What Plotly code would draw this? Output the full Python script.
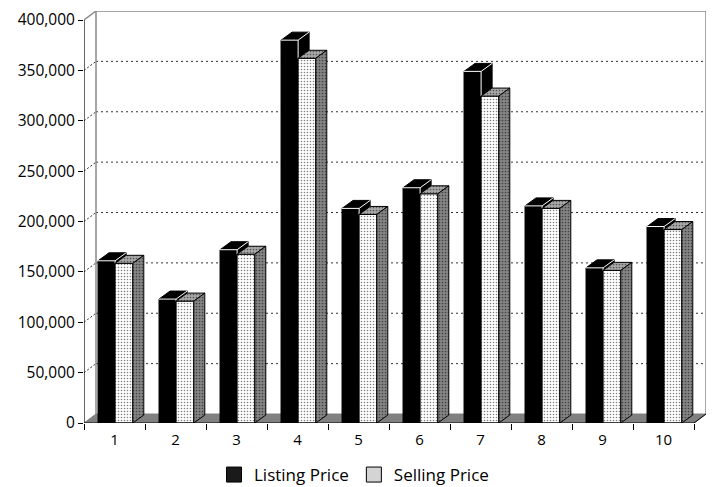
import plotly.graph_objects as go

# ---- data ----
categories = ["1", "2", "3", "4", "5", "6", "7", "8", "9", "10"]
listing_price = [161000, 123000, 172000, 380000, 213000, 233500, 349000, 215500, 154000, 195000]
selling_price = [158500, 121000, 167500, 362000, 207000, 227500, 324500, 213000, 151500, 192000]
y_ticks = [0, 50000, 100000, 150000, 200000, 250000, 300000, 350000, 400000]
series_names = ["Listing Price", "Selling Price"]

# ---- geometry (pixel-derived style constants) ----
W, H = 714, 487
ML, MR, MT, MB = 84, 8, 11, 64
PX_PER_CAT = 61.0
YMAX = 400000
PX_PER_Y = (H - MB - MT - 9) / YMAX  # 403 px for 400k
WALL_DX = 12 / PX_PER_CAT
WALL_DY = 9 / PX_PER_Y
BAR_DX = 11 / PX_PER_CAT
BAR_DY = 8 / PX_PER_Y
L_OFF, L_W = -0.27, 0.28
S_OFF, S_W = 0.01, 0.29

xpos = list(range(1, len(categories) + 1))
x0 = 0.5
x1 = len(categories) + 0.5
xr_max = x1 + WALL_DX
ytop = YMAX + WALL_DY

fig = go.Figure()

# front faces as bars
fig.add_trace(go.Bar(
    x=xpos, y=listing_price, offset=L_OFF, width=L_W,
    marker=dict(color="black", line=dict(color="black", width=1)),
    showlegend=False, hoverinfo="skip"))
fig.add_trace(go.Bar(
    x=xpos, y=selling_price, offset=S_OFF, width=S_W,
    marker=dict(color="white", line=dict(color="black", width=1),
                pattern=dict(shape=".", fgcolor="black", bgcolor="white", size=3, solidity=0.22)),
    showlegend=False, hoverinfo="skip"))

# 3D faces computed from data
lt_x, lt_y = [], []      # listing top
ls_x, ls_y = [], []      # listing side (visible part)
lw_x, lw_y = [], []      # white edges of listing
st_x, st_y = [], []      # selling top
ss_x, ss_y = [], []      # selling side
for xi, L, S in zip(xpos, listing_price, selling_price):
    xl = xi + L_OFF
    xr = xi + L_OFF + L_W
    lt_x += [xl, xr, xr + BAR_DX, xl + BAR_DX, xl, None]
    lt_y += [L, L, L + BAR_DY, L + BAR_DY, L, None]
    lo = min(S, L)
    ls_x += [xr, xr, xr + BAR_DX, xr + BAR_DX, xr, None]
    ls_y += [lo, L, L + BAR_DY, lo + BAR_DY, lo, None]
    lw_x += [xl, xr, xr + BAR_DX, None, xr, xr, None]
    lw_y += [L, L, L + BAR_DY, None, L, lo, None]
    sl = xi + S_OFF
    sr = xi + S_OFF + S_W
    st_x += [sl, sr, sr + BAR_DX, sl + BAR_DX, sl, None]
    st_y += [S, S, S + BAR_DY, S + BAR_DY, S, None]
    ss_x += [sr, sr, sr + BAR_DX, sr + BAR_DX, sr, None]
    ss_y += [0, S, S + BAR_DY, BAR_DY, 0, None]

fig.add_trace(go.Scatter(x=ls_x, y=ls_y, mode="lines", fill="toself", fillcolor="black",
                         line=dict(color="black", width=1), showlegend=False, hoverinfo="skip"))
fig.add_trace(go.Scatter(x=lt_x, y=lt_y, mode="lines", fill="toself", fillcolor="black",
                         line=dict(color="black", width=1), showlegend=False, hoverinfo="skip"))
fig.add_trace(go.Scatter(x=lw_x, y=lw_y, mode="lines",
                         line=dict(color="white", width=1), showlegend=False, hoverinfo="skip"))
fig.add_trace(go.Scatter(x=st_x, y=st_y, mode="lines", fill="toself", fillcolor="#a0a0a0",
                         fillpattern=dict(shape=".", fgcolor="black", bgcolor="#a8a8a8", size=3, solidity=0.25),
                         line=dict(color="black", width=1), showlegend=False, hoverinfo="skip"))
fig.add_trace(go.Scatter(x=ss_x, y=ss_y, mode="lines", fill="toself", fillcolor="#808080",
                         fillpattern=dict(shape=".", fgcolor="black", bgcolor="#858585", size=3, solidity=0.25),
                         line=dict(color="black", width=1), showlegend=False, hoverinfo="skip"))

# legend entries
fig.add_trace(go.Scatter(x=[None], y=[None], mode="markers", name=series_names[0],
                         marker=dict(symbol="square", size=15, color="#1a1a1a", line=dict(color="black", width=1))))
fig.add_trace(go.Scatter(x=[None], y=[None], mode="markers", name=series_names[1],
                         marker=dict(symbol="square", size=15, color="#d4d4d4", line=dict(color="black", width=1))))

shapes = []
GRID = "#333333"
WALLC = "#8a8a8a"
for v in y_ticks[1:-1]:
    shapes.append(dict(type="line", xref="x", yref="y", x0=x0 + WALL_DX, x1=xr_max,
                       y0=v + WALL_DY, y1=v + WALL_DY, layer="below",
                       line=dict(color=GRID, width=1, dash="2px,3px")))
    shapes.append(dict(type="line", xref="x", yref="y", x0=x0, x1=x0 + WALL_DX,
                       y0=v, y1=v + WALL_DY, layer="below",
                       line=dict(color=GRID, width=1, dash="2px,2px")))
# back wall edges
shapes.append(dict(type="path", xref="x", yref="y", layer="below",
                   path=f"M {x0+WALL_DX},{WALL_DY} L {x0+WALL_DX},{ytop} L {xr_max},{ytop} L {xr_max},{WALL_DY}",
                   line=dict(color=WALLC, width=1.5)))
shapes.append(dict(type="line", xref="x", yref="y", layer="below", x0=x0, y0=YMAX, x1=x0 + WALL_DX, y1=ytop,
                   line=dict(color=WALLC, width=1.5)))
# floor
shapes.append(dict(type="path", xref="x", yref="y", layer="below",
                   path=f"M {x0},0 L {x1},0 L {xr_max},{WALL_DY} L {x0+WALL_DX},{WALL_DY} Z",
                   fillcolor="#808080", line=dict(color="#808080", width=1)))
# axes lines
shapes.append(dict(type="line", xref="x", yref="y", layer="above", x0=x0, y0=0, x1=x1, y1=0,
                   line=dict(color="black", width=1.2)))
shapes.append(dict(type="line", xref="x", yref="y", layer="above", x0=x1, y0=0, x1=xr_max, y1=WALL_DY,
                   line=dict(color="black", width=1)))
shapes.append(dict(type="line", xref="x", yref="y", layer="above", x0=x0, y0=0, x1=x0, y1=YMAX,
                   line=dict(color="black", width=1.2)))

FONT = "Open Sans"
fig.update_layout(
    width=W, height=H,
    margin=dict(l=ML, r=MR, t=MT, b=MB, pad=0, autoexpand=False),
    paper_bgcolor="white", plot_bgcolor="white",
    barmode="overlay",
    font=dict(family=FONT, size=15, color="black"),
    shapes=shapes,
    showlegend=True,
    legend=dict(orientation="h", xref="container", yref="container",
                x=354 / W, xanchor="center", y=1 - 475 / H, yanchor="middle",
                font=dict(size=17), itemwidth=30, bgcolor="rgba(0,0,0,0)"),
    xaxis=dict(range=[x0, xr_max], tickvals=xpos, ticktext=categories, ticks="",
               showgrid=False, zeroline=False, showline=False, tickfont=dict(size=15),
               ticklabelstandoff=6, automargin=False,
               minor=dict(tickvals=[i + 0.5 for i in range(0, len(categories) + 1)], ticks="outside",
                          ticklen=6, tickcolor="black", tickwidth=1, showgrid=False)),
    yaxis=dict(range=[0, ytop], tickvals=y_ticks, tickformat=",", ticks="outside", ticklen=5,
               tickcolor="black", showgrid=False, zeroline=False, showline=False,
               tickfont=dict(size=15.5), automargin=False),
)

fig.write_html("out.html")
